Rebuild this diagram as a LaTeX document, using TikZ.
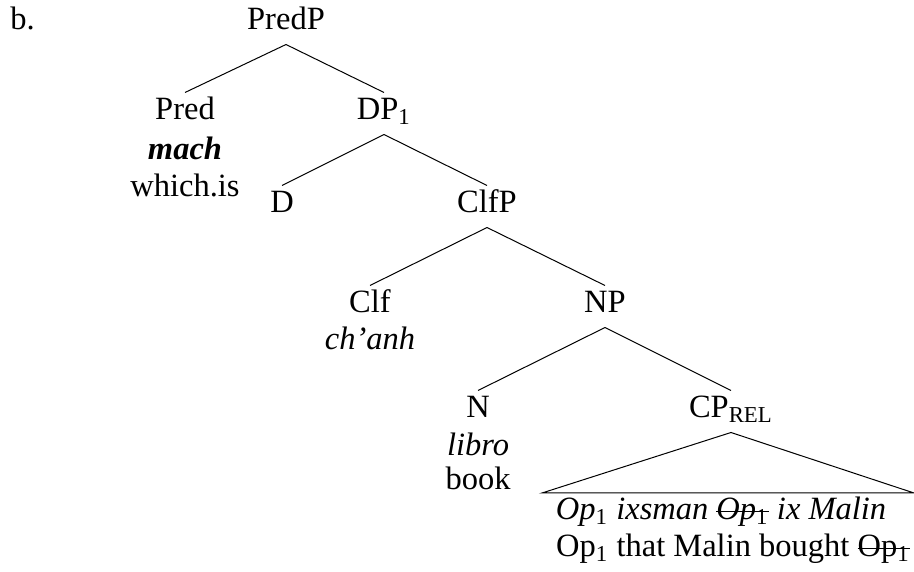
\documentclass[tikz,border=0pt]{standalone}
\usepackage{fontspec}
\setmainfont{Liberation Serif}

% struck-through copy of a word
\newsavebox\strikebox
\newcommand{\struck}[1]{\sbox\strikebox{#1}\rlap{\rule[0.25em]{\wd\strikebox}{0.4pt}}\usebox\strikebox}

\tikzset{
  cat/.style={anchor=base, inner xsep=0pt, inner ysep=2.8pt, text height=8pt, text depth=2.8pt},
  word/.style={anchor=base, inner sep=0pt},
}

\begin{document}
\begin{tikzpicture}[x=0.4pt, y=-0.4pt, font=\fontsize{13pt}{15pt}\selectfont, thin]
  \useasboundingbox (0,0) rectangle (914,572);
  \node[word, anchor=base west] (ex) at (10,30) {b.};

  \node[cat] (predp) at (286,30) {PredP};
  \node[cat] (pred) at (185,120) {Pred};
  \node[word] (mach) at (185,160) {\textbf{\textit{mach}}};
  \node[word] (whichis) at (185,197) {which.is};
  \node[cat] (dp) at (384,120) {DP\textsubscript{1}};

  \node[cat] (d) at (282,213) {D};
  \node[cat] (clfp) at (487,213) {ClfP};

  \node[cat] (clf) at (370,313) {Clf};
  \node[word] (chanh) at (370,350) {\textit{ch’anh}};
  \node[cat] (np) at (605,313) {NP};

  \node[cat] (n) at (478,418) {N};
  \node[word] (libro) at (478,455) {\textit{libro}};
  \node[word] (book) at (478,490) {book};
  \node[cat] (cp) at (731,418) {CP\textsubscript{REL}};

  \draw (predp.south) -- (pred.north);
  \draw (predp.south) -- (dp.north);
  \draw (dp.south) -- (d.north);
  \draw (dp.south) -- (clfp.north);
  \draw (clfp.south) -- (clf.north);
  \draw (clfp.south) -- (np.north);
  \draw (np.south) -- (n.north);
  \draw (np.south) -- (cp.north);

  % roof over the relative clause
  \coordinate (roof-l) at (542,493);
  \coordinate (roof-r) at (914,493);
  \draw (cp.south) -- (roof-l) -- (roof-r) -- cycle;
  \node[word] (rel) at (721,520) {\textit{Op}\textsubscript{1} \textit{ixsman} \struck{\textit{Op}\textsubscript{1}} \textit{ix Malin}};
  \node[word] (relgloss) at (733,557) {Op\textsubscript{1} that Malin bought \struck{Op\textsubscript{1}}};
\end{tikzpicture}
\end{document}
